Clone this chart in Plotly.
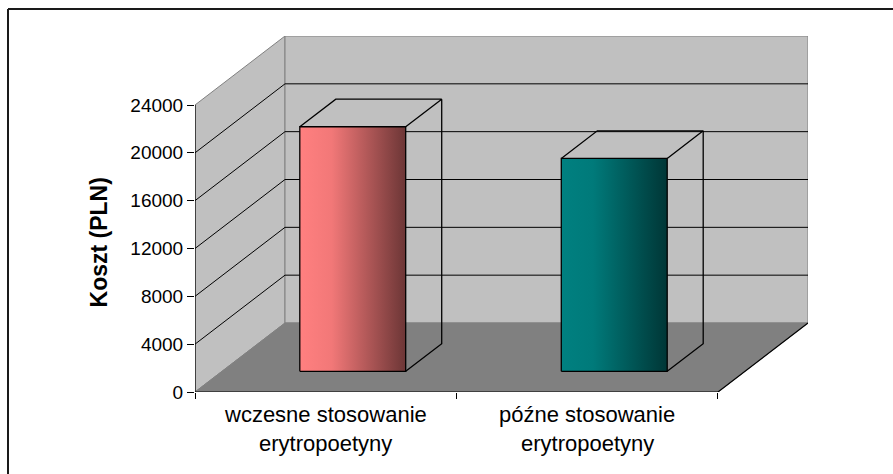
import plotly.graph_objects as go

# ---- data -------------------------------------------------------------
label_lines = [
    ["wczesne stosowanie", "erytropoetyny"],
    ["późne stosowanie", "erytropoetyny"],
]
costs = [20450, 17800]                     # Koszt (PLN)
y_ticks = [0, 4000, 8000, 12000, 16000, 20000, 24000]
bar_scales = [
    [[0, "#FF8080"], [0.3, "#F27878"], [1, "#6C3636"]],
    [[0, "#008080"], [0.3, "#007A7A"], [1, "#003636"]],
]

# ---- geometry of the oblique 3-D box ----------------------------------
W, H = 893, 474
ML, MT = 195, 36
PLOT_W, PLOT_H = 613, 356
V_MAX = 24000
DEPTH_X = 0.3442          # horizontal shift of the back plane (category units)
DEPTH_Y = 5770            # vertical shift of the back plane (value units)
X_MAX = 2 + DEPTH_X
Y_TOP = V_MAX + DEPTH_Y
BAR_W = 0.405
Z_FRONT, Z_BACK = 0.30, 0.70

WALL = "#C0C0C0"
FLOOR = "#808080"
EDGE = "#808080"
FONT = "Liberation Sans, Arial"


def proj(x, v, z):
    return x + z * DEPTH_X, v + z * DEPTH_Y


def poly(points):
    xs = [p[0] for p in points] + [points[0][0]]
    ys = [p[1] for p in points] + [points[0][1]]
    return xs, ys


fig = go.Figure()


def add_fill(points, color, line_color=None, width=1):
    xs, ys = poly(points)
    fig.add_trace(go.Scatter(
        x=xs, y=ys, mode="lines", fill="toself", fillcolor=color,
        line=dict(color=line_color or color, width=width),
        hoverinfo="skip", showlegend=False))


def add_path(segments, color, width=1):
    xs, ys = [], []
    for seg in segments:
        xs += [p[0] for p in seg] + [None]
        ys += [p[1] for p in seg] + [None]
    fig.add_trace(go.Scatter(
        x=xs, y=ys, mode="lines", line=dict(color=color, width=width),
        hoverinfo="skip", showlegend=False))


# side wall, back wall, floor
add_fill([proj(0, 0, 0), proj(0, 0, 1), proj(0, V_MAX, 1), proj(0, V_MAX, 0)], WALL, EDGE)
add_fill([proj(0, 0, 1), proj(2, 0, 1), proj(2, V_MAX, 1), proj(0, V_MAX, 1)], WALL, EDGE)
add_fill([proj(0, 0, 0), proj(2, 0, 0), proj(2, 0, 1), proj(0, 0, 1)], FLOOR, EDGE)

# gridlines across side and back walls
grid = [[proj(0, v, 0), proj(0, v, 1), proj(2, v, 1)] for v in y_ticks[1:-1]]
add_path(grid, "#000000", 1)

# axis lines and floor right edge
add_path([[proj(0, 0, 0), proj(0, V_MAX, 0)],
          [proj(0, 0, 0), proj(2, 0, 0)],
          [proj(2, 0, 0), proj(2, 0, 1)]], "#000000", 1.2)

# bars
for i, (val, scale) in enumerate(zip(costs, bar_scales)):
    xl, xr = i + 0.5 - BAR_W / 2, i + 0.5 + BAR_W / 2
    front = [proj(xl, 0, Z_FRONT), proj(xr, 0, Z_FRONT),
             proj(xr, val, Z_FRONT), proj(xl, val, Z_FRONT)]
    xs, ys = poly(front)
    fig.add_trace(go.Scatter(
        x=xs, y=ys, mode="lines", fill="toself",
        fillgradient=dict(type="horizontal", colorscale=scale),
        line=dict(width=0), hoverinfo="skip", showlegend=False))
    ftl, ftr = proj(xl, val, Z_FRONT), proj(xr, val, Z_FRONT)
    fbl, fbr = proj(xl, 0, Z_FRONT), proj(xr, 0, Z_FRONT)
    btl, btr = proj(xl, val, Z_BACK), proj(xr, val, Z_BACK)
    bbr = proj(xr, 0, Z_BACK)
    add_path([[fbl, fbr, ftr, ftl, fbl],
              [ftl, btl, btr, ftr],
              [btr, bbr, fbr]], "#000000", 1.3)

# category labels
for i, lines in enumerate(label_lines):
    for k, txt in enumerate(lines):
        fig.add_annotation(
            x=i + 0.5, xref="x", y=0, yref="paper",
            yanchor="middle", xanchor="center", yshift=-22 - 29 * k,
            text=txt, showarrow=False,
            font=dict(family=FONT, size=22, color="#000000"))

# y-axis title
fig.add_annotation(
    x=0, xref="paper", xshift=99 - ML, y=0.42, yref="paper",
    text="<b>Koszt (PLN)</b>", textangle=-90, showarrow=False,
    xanchor="center", yanchor="middle",
    font=dict(family=FONT, size=23, color="#000000"))

# outer frame (left and top edges)
px_x = lambda px: (px - ML) / PLOT_W
px_y = lambda py: (MT + PLOT_H - py) / PLOT_H
fig.add_shape(type="line", xref="paper", yref="paper",
              x0=px_x(8), y0=px_y(9), x1=px_x(893), y1=px_y(9),
              line=dict(color="#1a1a1a", width=2))
fig.add_shape(type="line", xref="paper", yref="paper",
              x0=px_x(8), y0=px_y(9), x1=px_x(8), y1=px_y(474),
              line=dict(color="#1a1a1a", width=2))

fig.update_layout(
    width=W, height=H, autosize=False,
    margin=dict(l=ML, r=W - ML - PLOT_W, t=MT, b=H - MT - PLOT_H, pad=0),
    paper_bgcolor="#FFFFFF", plot_bgcolor="rgba(0,0,0,0)",
    showlegend=False,
    xaxis=dict(range=[0, X_MAX], tickvals=[0, 1, 2], ticktext=["", "", ""],
               ticks="outside", ticklen=6, tickcolor="#000000",
               showgrid=False, zeroline=False, showline=False, fixedrange=True),
    yaxis=dict(range=[0, Y_TOP], tickvals=y_ticks,
               ticktext=[str(v) for v in y_ticks],
               ticks="outside", ticklen=7, tickcolor="#000000",
               tickfont=dict(family=FONT, size=19, color="#000000"),
               showgrid=False, zeroline=False, showline=False, fixedrange=True),
)

fig.write_html("out.html")
